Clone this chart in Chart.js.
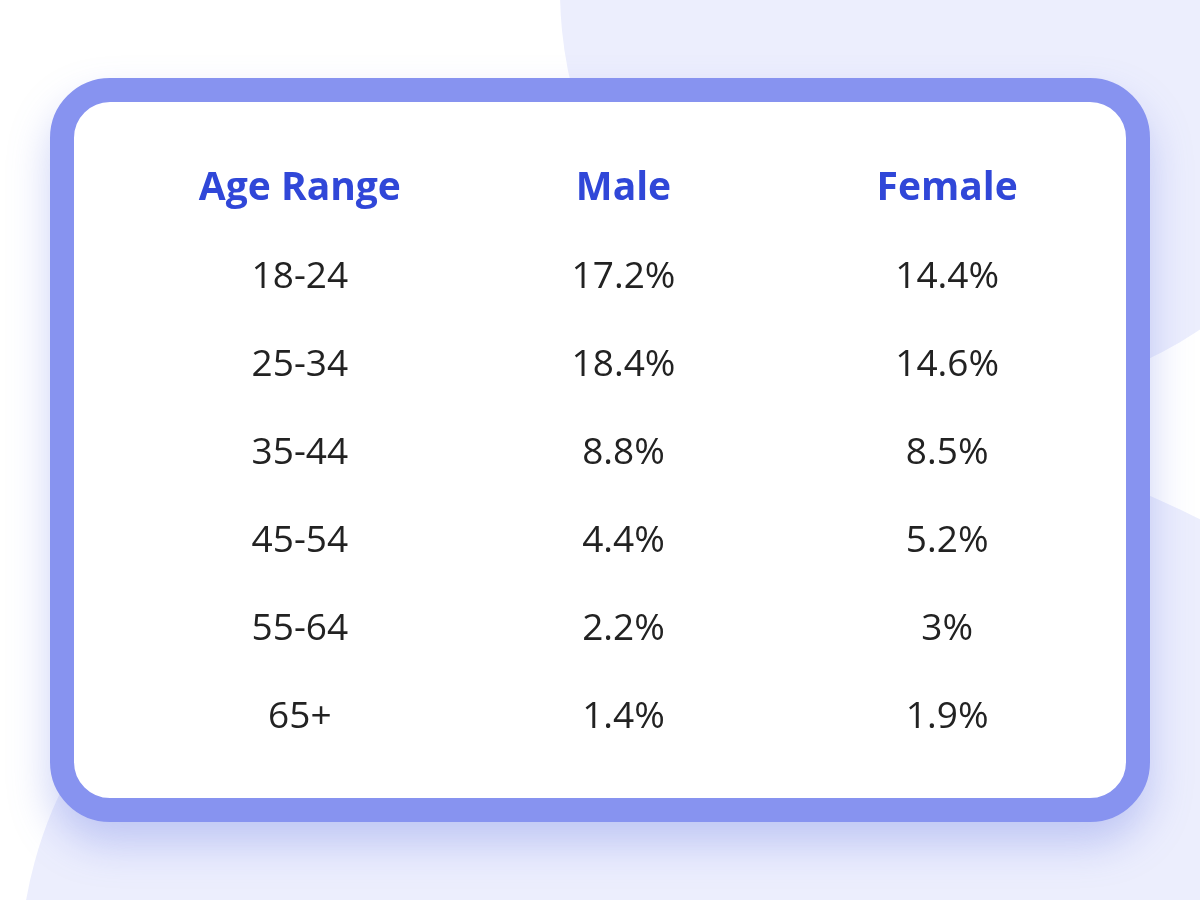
<!DOCTYPE html>
<html>
<head>
<meta charset="utf-8">
<script src="https://cdn.jsdelivr.net/npm/chart.js@4/dist/chart.umd.min.js"></script>
<style>
  html, body { margin: 0; padding: 0; width: 1200px; height: 900px; overflow: hidden; background: #fff; position: relative; }
  .blob1 { position: absolute; left: 560px; top: -420px; width: 820px; height: 820px; border-radius: 50%; background: #eceefd; }
  .blob2 { position: absolute; left: 20px; top: 420px; width: 1500px; height: 1100px; border-radius: 50%; background: #eceefd; }
  .card { position: absolute; left: 50px; top: 78px; width: 1052px; height: 696px; border: 24px solid #8793f0;
          border-radius: 60px; background: #fff; box-shadow: 0 22px 40px rgba(110,125,230,.35); }
  canvas { position: absolute; left: 0; top: 0; }
</style>
</head>
<body>
<div class="blob1"></div>
<div class="blob2"></div>
<div class="card"></div>
<canvas id="tbl" width="1200" height="900"></canvas>
<script>
/* ── Data ─────────────────────────────────── */
const columns   = ['Age Range', 'Male', 'Female'];
const ageRanges = ['18-24', '25-34', '35-44', '45-54', '55-64', '65+'];
const male      = ['17.2%', '18.4%', '8.8%', '4.4%', '2.2%', '1.4%'];
const female    = ['14.4%', '14.6%', '8.5%', '5.2%', '3%', '1.9%'];

const rows = ['header', ...ageRanges];

/* ── Table plugin: draws cell text at scale positions ── */
const tablePlugin = {
  id: 'tableText',
  afterDatasetsDraw(chart) {
    const { ctx, scales: { x, y } } = chart;
    ctx.save();
    ctx.textAlign = 'center';
    ctx.textBaseline = 'middle';
    ctx.fillStyle = '#3047d8';
    ctx.font = '700 39px "Open Sans"';
    columns.forEach((c, i) => ctx.fillText(c, x.getPixelForValue(i), y.getPixelForValue(0)));
    ctx.fillStyle = '#222';
    ctx.font = '400 37px "Open Sans"';
    ageRanges.forEach((a, r) => {
      const py = y.getPixelForValue(r + 1);
      [a, male[r], female[r]].forEach((v, i) => ctx.fillText(v, x.getPixelForValue(i), py));
    });
    ctx.restore();
  }
};

new Chart(document.getElementById('tbl'), {
  type: 'scatter',
  data: { datasets: [{ data: [], pointRadius: 0 }] },
  options: {
    responsive: false,
    animation: false,
    devicePixelRatio: 1,
    layout: { padding: { left: 138, right: 91, top: 145, bottom: 139 } },
    plugins: { legend: { display: false }, tooltip: { enabled: false } },
    scales: {
      x: { type: 'category', labels: columns, offset: true, display: false },
      y: { type: 'category', labels: rows, offset: true, display: false }
    }
  },
  plugins: [tablePlugin]
});
</script>
</body>
</html>
